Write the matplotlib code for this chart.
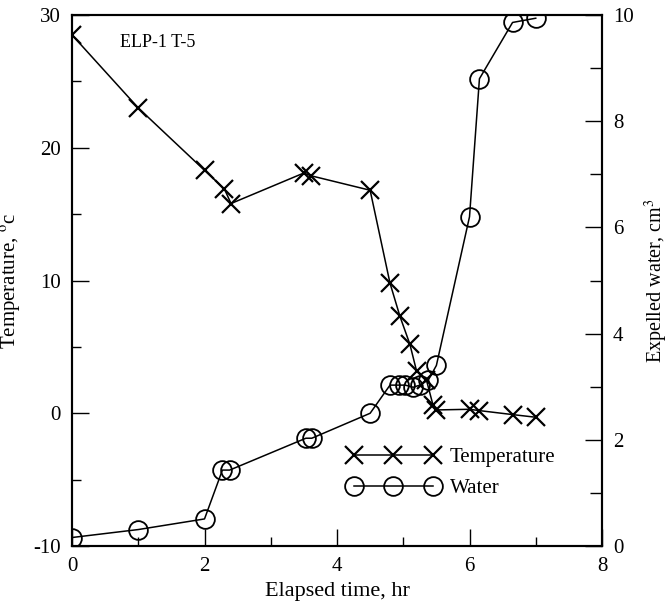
import matplotlib
matplotlib.use("Agg")
import matplotlib.pyplot as plt
from matplotlib.ticker import MultipleLocator

plt.rcParams["font.family"] = ["Liberation Serif", "DejaVu Serif"]
plt.rcParams["mathtext.fontset"] = "stix"
plt.rcParams["axes.unicode_minus"] = False

# temperature readings
temp_time = [0, 1.0, 2.0, 2.3, 2.4, 3.5, 3.6, 4.5, 4.8, 4.95, 5.1, 5.2, 5.35, 5.45, 5.5, 6.0, 6.15, 6.65, 7.0]
temp_val = [28.5, 23.0, 18.3, 16.9, 15.8, 18.1, 17.9, 16.8, 9.8, 7.3, 5.2, 3.2, 2.5, 0.6, 0.25, 0.3, 0.2, -0.1, -0.3]

# expelled water readings
water_time = [0, 1.0, 2.0, 2.27, 2.38, 3.53, 3.62, 4.5, 4.8, 4.93, 5.03, 5.15, 5.25, 5.38, 5.5, 6.0, 6.15, 6.65, 7.0]
water_val = [0.16, 0.31, 0.51, 1.43, 1.43, 2.03, 2.03, 2.5, 3.03, 3.03, 3.03, 2.99, 3.03, 3.13, 3.4, 6.2, 8.8, 9.86, 9.94]

fig = plt.figure(figsize=(6.7, 6.01), dpi=100)
ax = fig.add_axes([0.1075, 0.0915, 0.791, 0.8835])
ax2 = ax.twinx()

l1, = ax.plot(temp_time, temp_val, color="black", lw=1.1, marker="x",
              ms=13, mew=1.6, label="Temperature")
l2, = ax2.plot(water_time, water_val, color="black", lw=1.1, marker="o",
               ms=13.5, mfc="none", mew=1.3, label="Water")

ax.set_xlim(0, 8)
ax.set_ylim(-10, 30)
ax2.set_ylim(0, 10)

ax.xaxis.set_major_locator(MultipleLocator(2))
ax.xaxis.set_minor_locator(MultipleLocator(1))
ax.yaxis.set_major_locator(MultipleLocator(10))
ax.yaxis.set_minor_locator(MultipleLocator(5))
ax2.yaxis.set_major_locator(MultipleLocator(2))
ax2.yaxis.set_minor_locator(MultipleLocator(1))

ax.tick_params(which="both", direction="in", top=False, right=False, labelsize=15, pad=8)
ax.tick_params(which="major", length=12.5, width=1.0)
ax.tick_params(which="minor", length=6.5, width=1.0)
ax2.tick_params(which="both", direction="in", labelsize=15, pad=8)
ax2.tick_params(which="major", length=12.5, width=1.0)
ax2.tick_params(which="minor", length=9, width=1.0)

for a in (ax, ax2):
    for s in a.spines.values():
        s.set_linewidth(1.5)

ax.set_xlabel("Elapsed time, hr", fontsize=16, labelpad=4)
ax.set_ylabel(r"Temperature, $^{\mathrm{o}}$c", fontsize=15)
ax.yaxis.set_label_coords(-0.092, 0.5)
ax2.set_ylabel(r"Expelled water, cm$^3$", fontsize=14.5)
ax2.yaxis.set_label_coords(1.078, 0.5)

ax.text(0.72, 27.9, "ELP-1 T-5", fontsize=13, ha="left", va="center")

ax2.legend([l1, l2], ["Temperature", "Water"], loc="center left",
           bbox_to_anchor=(0.52, 0.138), frameon=False, numpoints=3,
           handlelength=4.4, handletextpad=0.5, borderpad=0, borderaxespad=0,
           labelspacing=0.55, fontsize=15)

plt.savefig("out.png", dpi=100)
